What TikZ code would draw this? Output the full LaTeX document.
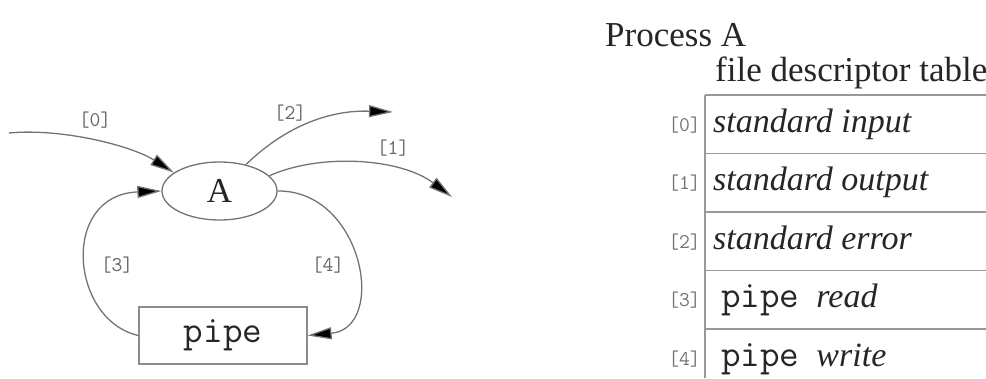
\documentclass[tikz,border=0pt]{standalone}
\usepackage{fontspec}
\setmainfont{Liberation Serif}
\usetikzlibrary{shapes.geometric,arrows.meta}
\begin{document}
\begin{tikzpicture}[x=1pt,y=-1pt,
  edge/.style={draw=black!55,line width=1.3pt,-{Triangle[length=24pt,width=12pt,fill=black]}},
  lab/.style={font=\ttfamily\fontsize{21}{24}\selectfont,text=black!60,inner sep=0pt},
  tlab/.style={font=\ttfamily\fontsize{21}{24}\selectfont,text=black!55,inner sep=0pt,anchor=base east},
  rowtxt/.style={font=\itshape\fontsize{34}{40}\selectfont,text=black!85,inner sep=0pt,anchor=base west},
  tline/.style={draw=black!40,line width=1.3pt},
  bigtxt/.style={font=\fontsize{35}{42}\selectfont,text=black!85,inner sep=0pt,anchor=base west}
]
\useasboundingbox (0,0) rectangle (986,378);
% left graph
\node[ellipse,draw=black!55,line width=1.3pt,minimum width=115pt,minimum height=58pt,inner sep=0pt,
      font=\fontsize{35}{42}\selectfont,text=black!85] (A) at (219.5,191) {A};
\node[rectangle,draw=black!45,line width=1.3pt,minimum width=168pt,minimum height=57pt,inner sep=0pt,
      font=\ttfamily\fontsize{38}{44}\selectfont,text=black!85] (pipe) at (223,335.5) {pipe};
\coordinate (in0) at (9,133);
\coordinate (out2) at (393,112);
\coordinate (out1) at (452,197);
\draw[edge] (in0) .. controls (60,128) and (130,145) .. (A.158);
\draw[edge] (A.45) .. controls (290,122) and (335,110) .. (out2);
\draw[edge] (A.17) .. controls (320,153) and (400,158) .. (out1);
\draw[edge] (pipe.west) .. controls (70,320) and (60,195) .. (A.180);
\draw[edge] (A.0) .. controls (363,190) and (388,328) .. (pipe.east);
\node[lab] (l0) at (95,120) {[0]};
\node[lab] (l2) at (290,113) {[2]};
\node[lab] (l1) at (393,148) {[1]};
\node[lab] (l3) at (117,265) {[3]};
\node[lab] (l4) at (328,265) {[4]};
% right table
\node[bigtxt] (proc) at (605,46) {Process A};
\node[bigtxt] (fdt) at (715,81) {file descriptor table};
\draw[tline] (705,95) -- (705,378);
\foreach \y in {95,153.5,212,270.5,329} \draw[tline] (705,\y) -- (986,\y);
\node[tlab] (t0) at (701,131) {[0]};
\node[tlab] (t1) at (701,189.5) {[1]};
\node[tlab] (t2) at (701,248) {[2]};
\node[tlab] (t3) at (701,306.5) {[3]};
\node[tlab] (t4) at (701,365) {[4]};
\node[rowtxt] (r0) at (713,132) {standard input};
\node[rowtxt] (r1) at (713,190.5) {standard output};
\node[rowtxt] (r2) at (713,249) {standard error};
\node[rowtxt] (r3) at (721,307.5) {{\upshape\ttfamily\fontsize{38}{44}\selectfont pipe}\enspace read};
\node[rowtxt] (r4) at (721,366) {{\upshape\ttfamily\fontsize{38}{44}\selectfont pipe}\enspace write};
\end{tikzpicture}
\end{document}
